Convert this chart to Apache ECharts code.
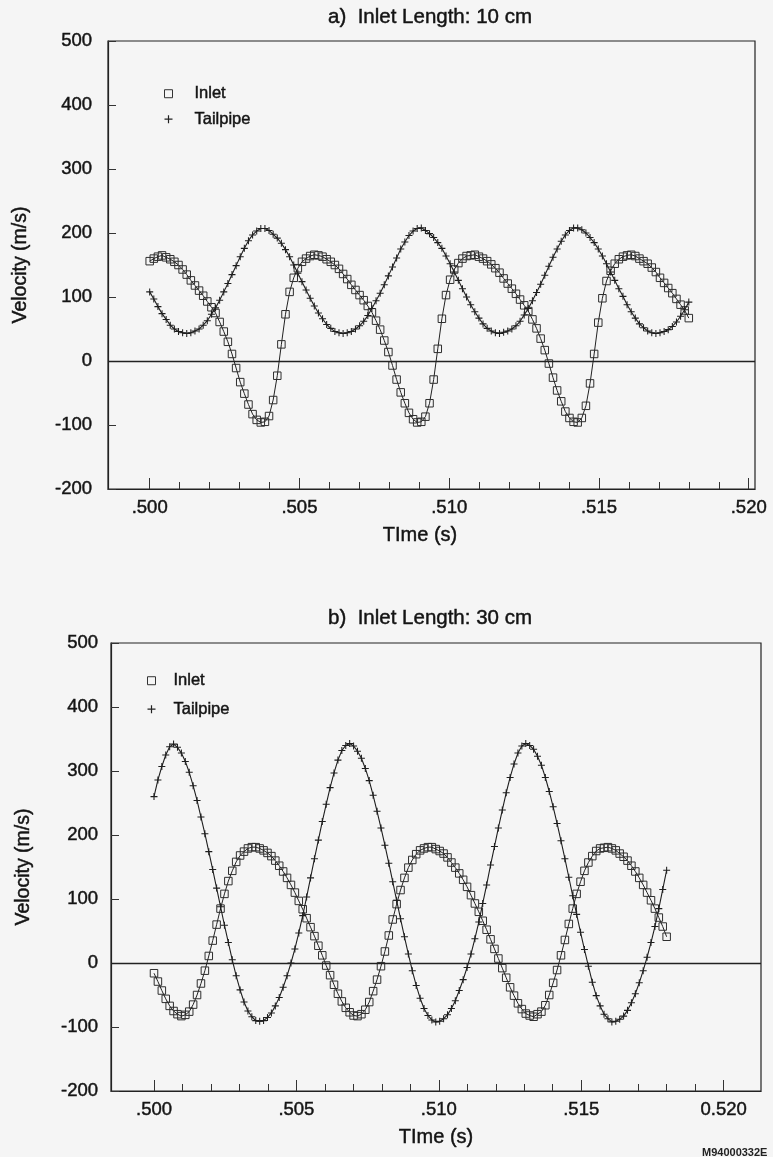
<!DOCTYPE html>
<html>
<head>
<meta charset="utf-8">
<script src="https://cdn.jsdelivr.net/npm/echarts@6/dist/echarts.min.js"></script>
<style>
  html, body { margin: 0; padding: 0; background: #f5f5f5; }
  #chart { width: 773px; height: 1157px; }
</style>
</head>
<body>
<div id="chart"></div>
<script>
// Sample clock: first sample at 0.500 s, 132 samples up to 0.518 s
const T0 = 0.500;
const DT = 0.018 / 131;

// a) Inlet length 10 cm — velocities (m/s)
const inletA = [
  156, 160, 163, 165, 162, 159, 155, 150, 143, 135, 126, 118, 110, 102, 93, 84, 75, 61, 46, 30,
  11, -11, -33, -51, -68, -83, -92, -96,
  -95, -86, -61, -23, 26, 73, 108, 130, 145, 155, 160, 164, 166, 165, 163, 159, 155, 150, 144, 136,
  128, 119, 111, 103, 95, 86, 76, 63, 49, 32, 14, -7, -29, -49, -66, -81, -91, -96,
  -95, -87, -66, -29, 19, 66, 103, 127, 143, 153, 160, 164, 165, 166, 163, 160, 156, 151, 145, 138,
  129, 121, 113, 105, 96, 87, 78, 65, 51, 35, 17, -4, -26, -46, -63, -79, -89, -95,
  -96, -89, -70, -35, 11, 60, 98, 125, 141, 152, 159, 163, 165, 166, 164, 160, 156, 152, 146, 139,
  130, 122, 114, 106, 97, 88, 79, 67
];
const tailpipeA = [
  108, 97, 85, 74, 65, 56, 50, 46, 44,
  43, 44, 47, 50, 56, 63, 73, 83, 95, 108, 121, 135, 149, 163, 176, 188, 197, 203, 207, 207,
  204, 198, 192, 184, 174, 163, 150, 137, 124, 111, 98, 86, 75, 66, 57, 51, 46, 44,
  43, 44, 46, 50, 55, 62, 71, 82, 94, 106, 119, 133, 147, 161, 175, 186, 196, 203, 207, 208,
  204, 199, 193, 185, 176, 164, 152, 139, 126, 113, 100, 88, 77, 67, 58, 51, 47, 44,
  43, 45, 47, 50, 55, 62, 72, 82, 94, 107, 120, 134, 148, 162, 175, 187, 197, 204, 208, 208,
  205, 200, 193, 185, 175, 164, 152, 139, 126, 113, 101, 88, 77, 67, 58, 52, 47, 44,
  43, 44, 46, 49, 54, 61, 70, 80, 92
];

// b) Inlet length 30 cm — velocities (m/s)
const inletB = [
  -16, -29, -43, -56, -67, -75, -80, -83,
  -81, -76, -65, -50, -32, -12, 11, 35, 60, 85, 108, 128, 144, 158, 168, 174, 179, 181, 181, 179,
  176, 172, 167, 160, 152, 143, 133, 122, 110, 97, 84, 70, 56, 42, 27, 12, -4, -19, -34, -48,
  -60, -70, -77, -82,
  -83, -80, -73, -61, -44, -26, -5, 18, 43, 68, 92, 114, 133, 149, 161, 170, 176, 179, 181, 181,
  178, 175, 171, 165, 157, 149, 140, 130, 119, 106, 93, 80, 66, 52, 37, 22, 7, -8, -23, -38,
  -51, -63, -72, -79, -82, -84,
  -80, -76, -66, -50, -31, -11, 12, 36, 61, 85, 108, 127, 144, 157, 167, 175, 179, 180, 181, 179,
  176, 171, 166, 160, 152, 143, 133, 122, 110, 98, 85, 71, 57, 41
];
const tailpipeB = [
  260, 286, 307, 325, 338,
  342, 337, 328, 315, 298, 277, 254, 228, 202, 174, 146, 117, 88, 59, 32, 5, -20, -42, -61, -75,
  -84, -90, -91, -90, -85, -78, -67, -54, -38, -20, 0, 22, 47, 74, 103, 133, 163, 192, 221, 248,
  274, 297, 317, 332, 340,
  343, 339, 331, 320, 304, 285, 262, 237, 211, 184, 156, 127, 98, 69, 41, 14, -12, -35, -55, -71,
  -82, -89, -92, -91, -87, -81, -71, -59, -43, -26, -7, 14, 38, 64, 93, 122, 153, 182, 211, 239,
  266, 290, 311, 328, 339, 343,
  340, 334, 323, 309, 290, 268, 244, 218, 191, 163, 134, 105, 76, 48, 21, -5, -30, -51, -67, -80,
  -87, -92, -91, -88, -83, -74, -62, -48, -31, -12, 9, 32, 57, 85, 115, 145
];

// Axis ticks and labels
const X_MAJOR = [0.500, 0.505, 0.510, 0.515, 0.520];
const X_LABELS_A = ['.500', '.505', '.510', '.515', '.520'];
const X_LABELS_B = ['.500', '.505', '.510', '.515', '0.520'];
const X_MINOR = Array.from({ length: 21 }, (_, k) => +(0.500 + k * 0.001).toFixed(3));
const Y_MIN = -200, Y_MAX = 500, Y_STEP = 100;
const TITLES = ['a)  Inlet Length: 10 cm', 'b)  Inlet Length: 30 cm'];
const SERIES_NAMES = ['Inlet', 'Tailpipe'];
const X_NAME = 'TIme (s)';
const Y_NAME = 'Velocity (m/s)';

const FONT = '"Liberation Sans", Arial, Helvetica, sans-serif';
const INK = '#141414';
// a thin outline in the text colour gives the printed, slightly heavy lettering
const HEAVY = { textBorderColor: INK, textBorderWidth: 0.45 };
const PLUS = 'path://M4.25,0H5.75V10H4.25Z M0,4.25H10V5.75H0Z';

const toPairs = vals => vals.map((v, i) => [T0 + i * DT, v]);
const labelFmt = labels => v => {
  const k = X_MAJOR.findIndex(m => Math.abs(m - v) < 1e-7);
  return k >= 0 ? labels[k] : '';
};

const panels = [
  { grid: { left: 108, top: 41, width: 647, height: 448 }, xMin: 0.498608, xMax: 0.52021,
    labels: X_LABELS_A, yLabelMargin: 16, nameShift: 23, inlet: inletA, tail: tailpipeA,
    legendLeft: 164, legendTop: 85, legendGap: 8, legendPad: 17, titleTop: 7 },
  { grid: { left: 111, top: 643, width: 650, height: 448 }, xMin: 0.49849, xMax: 0.521313,
    labels: X_LABELS_B, yLabelMargin: 13, nameShift: 0, inlet: inletB, tail: tailpipeB,
    legendLeft: 147, legendTop: 672, legendGap: 11, legendPad: 13, titleTop: 608 }
];

const option = {
  backgroundColor: '#f5f5f5',
  animation: false,
  textStyle: { fontFamily: FONT, color: INK },
  title: panels.map((p, i) => ({
    text: TITLES[i], left: 430, top: p.titleTop, textAlign: 'center', padding: 0,
    textStyle: Object.assign({ fontFamily: FONT, fontSize: 20.5, fontWeight: 'normal', color: INK }, HEAVY)
  })),
  grid: panels.map(p => Object.assign({ show: true, borderColor: '#222', borderWidth: 1.2,
    backgroundColor: 'transparent' }, p.grid)),
  legend: panels.map(p => ({
    orient: 'vertical', left: p.legendLeft, top: p.legendTop, padding: 0,
    itemWidth: 8, itemHeight: 8, itemGap: p.legendGap,
    textStyle: Object.assign({ fontFamily: FONT, fontSize: 16.5, lineHeight: 16, color: INK,
      padding: [0, 0, 0, p.legendPad] }, HEAVY),
    data: [
      { name: SERIES_NAMES[0], icon: 'rect', itemStyle: { color: 'rgba(0,0,0,0)', borderColor: '#333', borderWidth: 1 } },
      { name: SERIES_NAMES[1], icon: PLUS, itemStyle: { color: '#222', borderWidth: 0 } }
    ]
  })),
  xAxis: panels.flatMap((p, i) => [
    {
      gridIndex: i, type: 'value', min: p.xMin, max: p.xMax, position: 'bottom',
      axisLine: { show: true, onZero: false, lineStyle: { color: '#222', width: 1.2 } },
      axisTick: { show: true, inside: true, length: 7, customValues: X_MINOR, lineStyle: { color: '#333', width: 1 } },
      axisLabel: Object.assign({ show: true, customValues: X_MAJOR, formatter: labelFmt(p.labels), margin: 9,
        fontFamily: FONT, fontSize: 18.5, color: INK }, HEAVY),
      splitLine: { show: false },
      name: X_NAME, nameLocation: 'middle', nameGap: 36,
      nameTextStyle: Object.assign({ fontFamily: FONT, fontSize: 20, color: INK,
        padding: [0, p.nameShift, 0, 0] }, HEAVY)
    },
    {
      gridIndex: i, type: 'value', min: p.xMin, max: p.xMax, position: 'bottom',
      axisLine: { show: false, onZero: false },
      axisTick: { show: true, inside: true, length: 11, customValues: X_MAJOR, lineStyle: { color: '#333', width: 1 } },
      axisLabel: { show: false },
      splitLine: { show: false }
    }
  ]),
  yAxis: panels.map((p, i) => ({
    gridIndex: i, type: 'value', min: Y_MIN, max: Y_MAX, interval: Y_STEP, position: 'left',
    axisLine: { show: true, onZero: false, lineStyle: { color: '#222', width: 1.2 } },
    axisTick: { show: true, inside: true, length: 8, lineStyle: { color: '#333', width: 1 } },
    axisLabel: Object.assign({ margin: p.yLabelMargin, fontFamily: FONT, fontSize: 18.5, color: INK }, HEAVY),
    splitLine: { show: false },
    name: Y_NAME, nameLocation: 'middle', nameGap: 77,
    nameTextStyle: Object.assign({ fontFamily: FONT, fontSize: 19.5, color: INK }, HEAVY)
  })),
  series: panels.flatMap((p, i) => [
    {
      name: SERIES_NAMES[0], type: 'line', xAxisIndex: i * 2, yAxisIndex: i,
      data: toPairs(p.inlet), symbol: 'rect', symbolSize: 7.5, showSymbol: true,
      itemStyle: { color: 'rgba(0,0,0,0)', borderColor: '#2e2e2e', borderWidth: 1 },
      lineStyle: { color: '#222', width: 1 },
      emphasis: { disabled: true },
      markLine: {
        silent: true, symbol: 'none', label: { show: false },
        lineStyle: { color: '#222', width: 1.3, type: 'solid' },
        data: [{ yAxis: 0 }]
      },
      z: 3
    },
    {
      name: SERIES_NAMES[1], type: 'line', xAxisIndex: i * 2, yAxisIndex: i,
      data: toPairs(p.tail), symbol: PLUS, symbolSize: 7, showSymbol: true,
      itemStyle: { color: '#1e1e1e', borderWidth: 0 },
      lineStyle: { color: '#1e1e1e', width: 1.1 },
      emphasis: { disabled: true },
      z: 4
    }
  ]),
  graphic: [
    { type: 'text', left: 702, top: 1147,
      style: { text: 'M94000332E', fontFamily: FONT, fontSize: 11, fontWeight: 'bold', fill: '#222' } }
  ]
};

const chart = echarts.init(document.getElementById('chart'), null, { renderer: 'canvas' });
chart.setOption(option);
</script>
</body>
</html>
